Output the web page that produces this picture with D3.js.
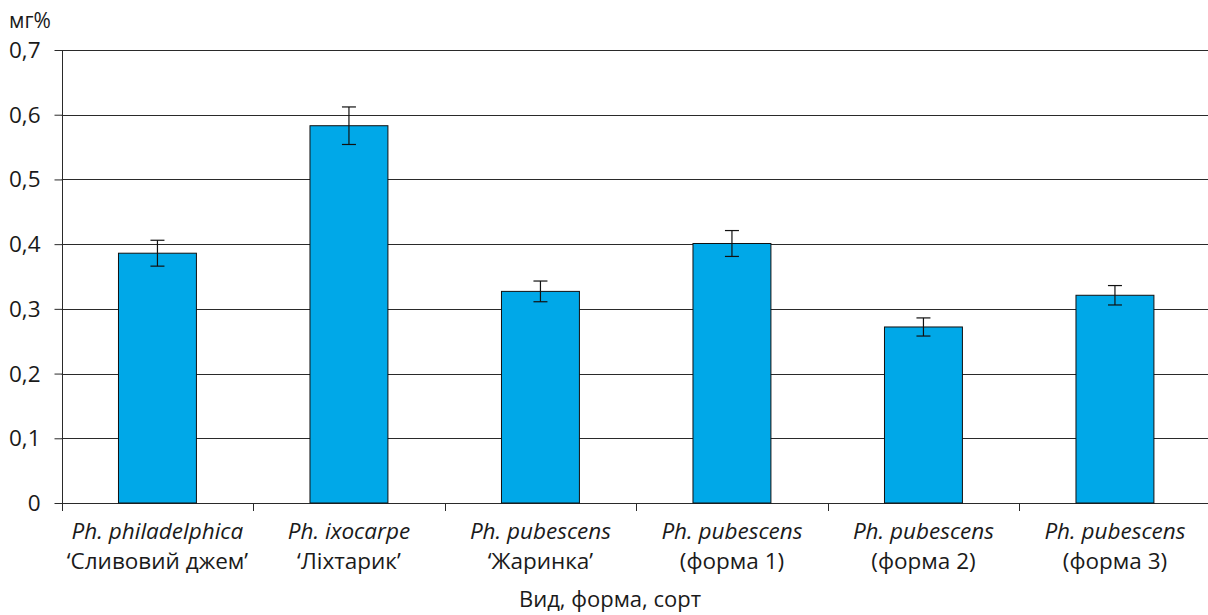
<!DOCTYPE html>
<html>
<head>
<meta charset="utf-8">
<script src="https://cdn.jsdelivr.net/npm/d3@7"></script>
<style>
  html, body { margin: 0; padding: 0; background: #fff; }
  svg { display: block; font-family: "Open Sans", sans-serif; }
</style>
</head>
<body>
<svg id="chart" width="1208" height="615"></svg>
<script>
// Species / cultivar names (italic line) and cultivar/form labels (second line)
const speciesNames = ["Ph. philadelphica", "Ph. ixocarpe", "Ph. pubescens", "Ph. pubescens", "Ph. pubescens", "Ph. pubescens"];
const formNames = ["\u2018Сливовий джем\u2019", "\u2018Ліхтарик\u2019", "\u2018Жаринка\u2019", "(форма 1)", "(форма 2)", "(форма 3)"];
// Mean content, mg%
const values = [0.386, 0.583, 0.327, 0.401, 0.272, 0.321];
// Error (±)
const errors = [0.020, 0.029, 0.016, 0.020, 0.014, 0.015];
// Y axis ticks
const yTicks = [0, 0.1, 0.2, 0.3, 0.4, 0.5, 0.6, 0.7];
const yUnit = "мг%";
const xTitle = "Вид, форма, сорт";

const svg = d3.select("#chart");
const plotLeft = 61.7, plotRight = 1210.7, plotTop = 50, plotBottom = 503;

const x = d3.scaleBand().domain(d3.range(values.length)).range([plotLeft, plotRight]).padding(0);
const y = d3.scaleLinear().domain([0, 0.7]).range([plotBottom, plotTop]);
const barW = x.bandwidth() * 0.407;
const fmt = d => d === 0 ? "0" : d3.format(".1f")(d).replace(".", ",");

// Horizontal grid lines
svg.append("g").selectAll("line").data(yTicks.filter(d => d > 0)).join("line")
  .attr("x1", plotLeft).attr("x2", 1208)
  .attr("y1", d => Math.round(y(d)) + 0.5).attr("y2", d => Math.round(y(d)) + 0.5)
  .attr("stroke", "#2a2a2a").attr("stroke-width", 1);

// Y axis
const yAxis = svg.append("g").attr("transform", `translate(${Math.round(plotLeft) + 0.5},0)`)
  .call(d3.axisLeft(y).tickValues(yTicks).tickSize(8).tickPadding(14).tickFormat(fmt));
yAxis.select(".domain").attr("stroke", "#2a2a2a").attr("d", `M0,${plotTop}V${plotBottom}`);
yAxis.selectAll(".tick line").attr("stroke", "#2a2a2a");
yAxis.selectAll(".tick text").attr("font-size", 22.5).attr("fill", "#1a1a1a")
  .attr("font-family", "'Open Sans', sans-serif").attr("dy", "0.33em");

// X axis baseline and category separators
const xAxisG = svg.append("g");
xAxisG.append("line").attr("x1", plotLeft).attr("x2", 1208)
  .attr("y1", Math.round(plotBottom) + 0.5).attr("y2", Math.round(plotBottom) + 0.5)
  .attr("stroke", "#2a2a2a");
const sepPos = d3.range(values.length + 1).map(i => plotLeft + i * x.step());
xAxisG.selectAll("line.sep").data(sepPos).join("line").attr("class", "sep")
  .attr("x1", d => Math.round(d) + 0.5).attr("x2", d => Math.round(d) + 0.5)
  .attr("y1", plotBottom).attr("y2", plotBottom + 8).attr("stroke", "#2a2a2a");

// Bars
svg.append("g").selectAll("rect").data(values).join("rect")
  .attr("x", (d, i) => x(i) + x.bandwidth() / 2 - barW / 2)
  .attr("y", d => y(d))
  .attr("width", barW)
  .attr("height", d => y(0) - y(d))
  .attr("fill", "#00a8e8").attr("stroke", "#111").attr("stroke-width", 1);

// Error bars
const eb = svg.append("g").attr("stroke", "#111").attr("stroke-width", 1.2);
values.forEach((v, i) => {
  const cx = x(i) + x.bandwidth() / 2;
  eb.append("line").attr("x1", cx).attr("x2", cx).attr("y1", y(v + errors[i])).attr("y2", y(v - errors[i]));
  eb.append("line").attr("x1", cx - 7).attr("x2", cx + 7).attr("y1", y(v + errors[i])).attr("y2", y(v + errors[i]));
  eb.append("line").attr("x1", cx - 7).attr("x2", cx + 7).attr("y1", y(v - errors[i])).attr("y2", y(v - errors[i]));
});

// Category labels
const cat = svg.append("g").attr("text-anchor", "middle").attr("font-size", 22.5).attr("fill", "#1a1a1a");
speciesNames.forEach((s, i) => {
  const cx = x(i) + x.bandwidth() / 2;
  cat.append("text").attr("x", cx).attr("y", 539).attr("font-style", "italic").text(s);
  cat.append("text").attr("x", cx).attr("y", 569).text(formNames[i]);
});

// Axis titles
svg.append("text").attr("x", 610).attr("y", 607).attr("text-anchor", "middle")
  .attr("font-size", 22).attr("fill", "#1a1a1a").text(xTitle);
svg.append("text").attr("x", 9).attr("y", 28)
  .attr("font-size", 21).attr("fill", "#1a1a1a").text(yUnit);
</script>
</body>
</html>
